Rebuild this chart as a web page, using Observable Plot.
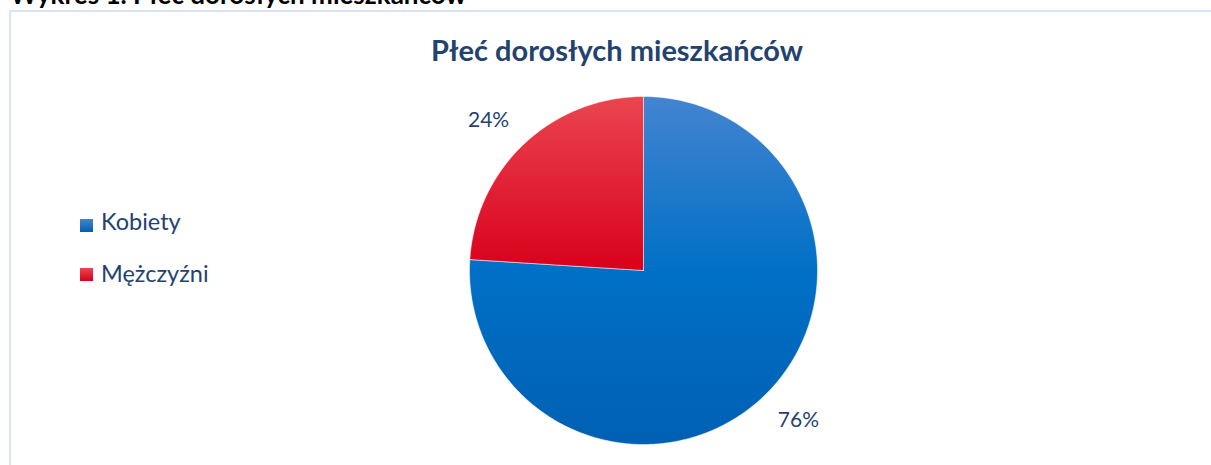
<!DOCTYPE html>
<html>
<head>
<meta charset="utf-8">
<script src="https://cdn.jsdelivr.net/npm/d3@7"></script>
<script src="https://cdn.jsdelivr.net/npm/@observablehq/plot@0.6"></script>
<style>
html, body { margin: 0; padding: 0; background: #fff; overflow: hidden; width: 1211px; height: 465px; }
body { position: relative; font-family: Lato, "Open Sans", sans-serif; }
#chart { position: absolute; left: 0; top: 0; }
#frame { position: absolute; left: 9px; top: 10px; width: 1300px; height: 600px; border: 2px solid #DAE4F3; box-sizing: border-box; pointer-events: none; }
#heading { position: absolute; left: 10px; top: -19px; font-size: 26px; font-weight: 700; color: #000; line-height: 26px; white-space: nowrap; }
#title { position: absolute; left: 317px; width: 600px; top: 35px; text-align: center; font-size: 29px; font-weight: 700; color: #24426F; line-height: 29px; white-space: nowrap; }
.leg { position: absolute; left: 80px; font-size: 23.5px; line-height: 23.5px; color: #24426F; white-space: nowrap; }
.leg .sw { position: absolute; left: 0; width: 13px; height: 13px; }
.leg .tx { position: absolute; left: 21px; top: 0; }
</style>
</head>
<body>
<div id="chart"></div>
<div id="frame"></div>
<div id="heading">Wykres 1. Płeć dorosłych mieszkańców</div>
<div id="title">Płeć dorosłych mieszkańców</div>
<div id="legend"></div>
<script>
// Data
const categories = ["Kobiety", "Mężczyźni"];
const shares = [76, 24];
const valueLabels = ["76%", "24%"];

// Styles (separate from data)
const gradStops = [
  [["0%", "#4484D0"], ["50%", "#0070C6"], ["100%", "#0060B3"]],
  [["0%", "#EA4550"], ["100%", "#D9001C"]]
];

const rows = categories.map((c, i) => ({name: c, share: shares[i], label: valueLabels[i]}));
const arcs = d3.pie().sort(null).value(d => d.share)(rows);

// polygon points for each slice in unit coordinates (y up, angle clockwise from 12 o'clock)
const slicePoints = arcs.map(a => {
  const n = Math.max(2, Math.ceil((a.endAngle - a.startAngle) / (Math.PI / 180)));
  const p = [{x: 0, y: 0}];
  for (let k = 0; k <= n; k++) {
    const t = a.startAngle + (a.endAngle - a.startAngle) * k / n;
    p.push({x: Math.sin(t), y: Math.cos(t)});
  }
  p.push({x: 0, y: 0});
  return p;
});

const labelR = 1.24;
const labelAngleOffset = -0.047;
const labelPts = arcs.map(a => {
  const m = (a.startAngle + a.endAngle) / 2 + labelAngleOffset;
  return {x: labelR * Math.sin(m), y: labelR * Math.cos(m), label: a.data.label};
});

const defsMark = () => {
  const defs = document.createElementNS("http://www.w3.org/2000/svg", "defs");
  defs.innerHTML = gradStops.map((stops, i) =>
    `<linearGradient id="grad${i}" x1="0" y1="0" x2="0" y2="1">` +
    stops.map(([o, c]) => `<stop offset="${o}" stop-color="${c}"/>`).join("") +
    `</linearGradient>`).join("");
  return defs;
};

const plot = Plot.plot({
  width: 1211,
  height: 465,
  margin: 0,
  style: {background: "transparent", fontFamily: "Lato, 'Open Sans', sans-serif"},
  x: {domain: [-1, 1], range: [469, 817], axis: null},
  y: {domain: [-1, 1], range: [444, 96], axis: null},
  marks: [
    defsMark,
    ...slicePoints.map((pts, i) => Plot.line(pts, {
      x: "x", y: "y", fill: `url(#grad${i})`, stroke: "#ffffff", strokeWidth: 1, strokeOpacity: 0.5
    })),
    Plot.text(labelPts, {x: "x", y: "y", text: "label", fontSize: 21, fill: "#24426F"})
  ]
});
document.getElementById("chart").appendChild(plot);

// Legend
const legend = document.getElementById("legend");
const legTops = [210, 262];
categories.forEach((c, i) => {
  const d = document.createElement("div");
  d.className = "leg";
  d.style.top = legTops[i] + "px";
  const stops = gradStops[i];
  d.innerHTML = `<span class="sw" style="top:${i === 0 ? 9 : 6}px;background:linear-gradient(${stops[0][1]}, ${stops[stops.length - 1][1]})"></span><span class="tx">${c}</span>`;
  legend.appendChild(d);
});
</script>
</body>
</html>
